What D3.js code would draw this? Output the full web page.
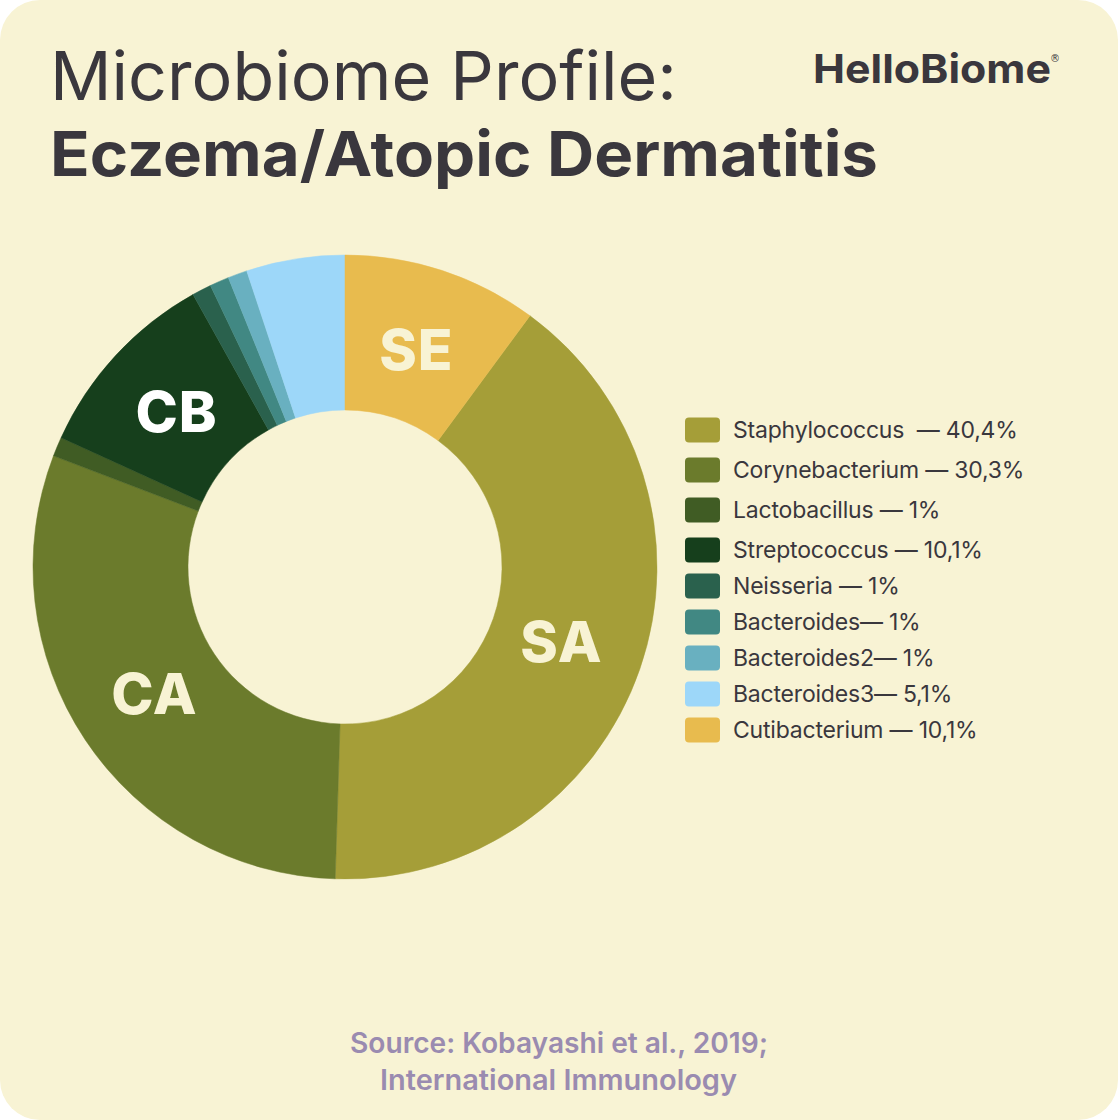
<!DOCTYPE html>
<html><head><meta charset="utf-8">
<script src="https://cdn.jsdelivr.net/npm/d3@7"></script>
<style>
html,body{margin:0;padding:0;background:#ffffff;}
svg{display:block;}
</style></head>
<body>
<svg id="chart" width="1118" height="1120"></svg>
<script>
const categories = ["Staphylococcus", "Corynebacterium", "Lactobacillus", "Streptococcus", "Neisseria", "Bacteroides", "Bacteroides2", "Bacteroides3", "Cutibacterium"];
const values = [40.4, 30.3, 1, 10.1, 1, 1, 1, 5.1, 10.1];
const legendLabels = ["Staphylococcus  — 40,4%", "Corynebacterium — 30,3%", "Lactobacillus — 1%", "Streptococcus — 10,1%", "Neisseria — 1%", "Bacteroides— 1%", "Bacteroides2— 1%", "Bacteroides3— 5,1%", "Cutibacterium — 10,1%"];
const sliceLabels = ["SA", "CA", "", "CB", "", "", "", "", "SE"];
const colors = ["#a59e38", "#6b7b2c", "#405c24", "#163f1c", "#2a614d", "#418883", "#69b0c0", "#9dd7f9", "#e8bb4e"];

// layout constants
const legendRowY = [430, 470, 510, 550, 586, 622, 658, 694, 730];

const svg = d3.select("#chart");
svg.append("rect").attr("x",0).attr("y",0).attr("width",1118).attr("height",1120)
  .attr("rx",40).attr("ry",40).attr("fill","#f8f3d4");

const ink = "#3a373d";
// Title
svg.append("text").attr("x",50).attr("y",100).attr("font-family","Inter, sans-serif").attr("fill",ink)
  .attr("font-size",67).attr("font-weight",400)
  .attr("textLength",627).attr("lengthAdjust","spacingAndGlyphs")
  .text("Microbiome Profile:");
svg.append("text").attr("x",50).attr("y",176).attr("font-family","Inter, sans-serif").attr("fill",ink)
  .attr("font-size",62).attr("font-weight",700)
  .attr("textLength",828).attr("lengthAdjust","spacingAndGlyphs")
  .text("Eczema/Atopic Dermatitis");

// Logo
svg.append("text").attr("x",813).attr("y",83).attr("font-family","Inter, sans-serif")
  .attr("font-size",40).attr("font-weight",700).attr("fill",ink)
  .attr("textLength",238).attr("lengthAdjust","spacingAndGlyphs")
  .text("HelloBiome");
svg.append("text").attr("x",1050).attr("y",62).attr("font-family","DejaVu Sans, sans-serif")
  .attr("font-size",10).attr("font-weight",400).attr("fill",ink).text("®");

// Donut
const cx = 345, cy = 567, rOuter = 312, rInner = 157;
const total = d3.sum(values);
const start = values[values.length-1] / total * 2 * Math.PI;
const pie = d3.pie().sort(null).value(d => d).startAngle(start).endAngle(start + 2*Math.PI);
const arcs = pie(values);
const arc = d3.arc().innerRadius(rInner).outerRadius(rOuter);
const g = svg.append("g").attr("transform", `translate(${cx},${cy})`);
g.selectAll("path").data(arcs).enter().append("path")
  .attr("d", arc).attr("fill", (d,i) => colors[i])
  .attr("stroke", (d,i) => colors[i]).attr("stroke-width", 0.5);

const labelArc = d3.arc().innerRadius(222).outerRadius(236);
g.selectAll("text.sl").data(arcs).enter().append("text")
  .attr("class","sl")
  .attr("transform", d => `translate(${labelArc.centroid(d)})`)
  .attr("text-anchor","middle").attr("dy","0.36em")
  .attr("font-family","Inter, sans-serif").attr("font-weight",800).attr("font-size",57)
  .attr("letter-spacing",1)
  .attr("fill", (d,i) => i === 3 ? "#ffffff" : "#f8f3d4")
  .text((d,i) => sliceLabels[i]);

// Legend
const lg = svg.append("g");
lg.selectAll("rect").data(categories).enter().append("rect")
  .attr("x",685).attr("y", (d,i) => legendRowY[i] - 12.5).attr("width",35).attr("height",25)
  .attr("rx",4).attr("fill", (d,i) => colors[i]);
lg.selectAll("text").data(categories).enter().append("text")
  .attr("x",733).attr("y", (d,i) => legendRowY[i]).attr("dy","0.36em")
  .attr("font-family","Inter, sans-serif").attr("font-size",23).attr("letter-spacing",-0.2).attr("fill",ink)
  .attr("xml:space","preserve").style("white-space","pre")
  .text((d,i) => legendLabels[i]);

// Source
svg.append("text").attr("x",350).attr("y",1053)
  .attr("font-family","Inter, sans-serif").attr("font-size",28).attr("font-weight",600)
  .attr("textLength",418).attr("lengthAdjust","spacingAndGlyphs")
  .attr("fill","#9a8bb0").text("Source: Kobayashi et al., 2019;");
svg.append("text").attr("x",380).attr("y",1090)
  .attr("font-family","Inter, sans-serif").attr("font-size",28).attr("font-weight",600)
  .attr("textLength",357).attr("lengthAdjust","spacingAndGlyphs")
  .attr("fill","#9a8bb0").text("International Immunology");
</script>
</body></html>
